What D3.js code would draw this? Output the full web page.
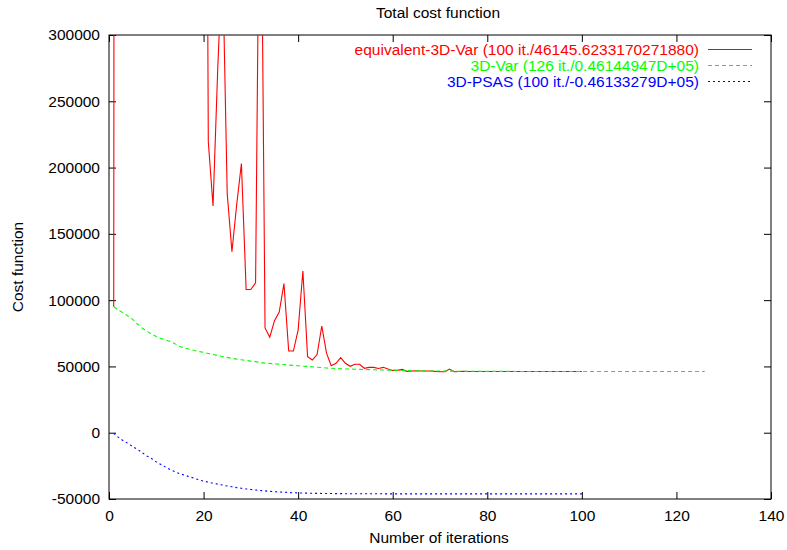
<!DOCTYPE html>
<html>
<head>
<meta charset="utf-8">
<script src="https://cdn.jsdelivr.net/npm/d3@7"></script>
<style>
  body { margin: 0; background: #fff; }
  text { font-family: "Liberation Sans", Arial, Helvetica, sans-serif; }
</style>
</head>
<body>
<svg id="chart"></svg>
<script>
// values, one entry per iteration (starting at 1)
const equivVar = [
    95000, 5000000, 4200000, 3600000, 3100000, 2700000, 2400000, 2100000, 1900000, 1700000,
    1600000, 1500000, 1400000, 1300000, 1250000, 1200000, 1150000, 1100000, 1050000, 1000000,
    219500, 171000, 275000, 360000, 180500, 136500, 172000, 203000, 108000, 108000,
    113000, 500000, 79000, 72000, 84500, 91000, 112500, 61600, 61600, 77500,
    122000, 57300, 54800, 59000, 80500, 60000, 50500, 52400, 56600, 52400,
    50100, 51600, 51600, 48600, 49300, 49300, 48400, 49300, 48000, 47000,
    47000, 47800, 46300, 46600, 46700, 46500, 46600, 46600, 46300, 46100,
    46000, 48000, 46000, 46200, 46250, 46200, 46180, 46200, 46170, 46160,
    46160, 46155, 46160, 46150, 46155, 46150, 46150, 46148, 46150, 46148,
    46147, 46147, 46146, 46146, 46146, 46146, 46145.8, 46145.7, 46145.6, 46145.6
];

const var3d = [
    95000, 92500, 90500, 88000, 85500, 82000, 79000, 76500, 74500, 72500,
    71000, 70000, 68800, 67000, 65000, 64000, 63000, 62000, 61200, 60600,
    59800, 59000, 58200, 57500, 56800, 56100, 55500, 55000, 54500, 54000,
    53600, 53000, 52500, 52200, 52000, 51700, 51400, 51000, 50800, 50500,
    50200, 50000, 49700, 49400, 49100, 48800, 48600, 48400, 48200, 48100,
    48000, 47900, 47800, 47700, 47600, 47500, 47400, 47300, 47200, 47100,
    47000, 46900, 46850, 46800, 46750, 46700, 46650, 46600, 46560, 46520,
    46490, 46460, 46430, 46400, 46380, 46360, 46340, 46320, 46300, 46290,
    46280, 46270, 46260, 46250, 46240, 46230, 46220, 46215, 46210, 46205,
    46200, 46195, 46190, 46186, 46182, 46178, 46175, 46172, 46169, 46166,
    46164, 46162, 46160, 46158, 46157, 46156, 46155, 46154, 46153, 46152,
    46151, 46150, 46149, 46148.5, 46148, 46147.5, 46147, 46146.8, 46146.5, 46146.3,
    46146, 46145.8, 46145.6, 46145.4, 46145.2, 46144.9
];

const psas3d = [
    -500, -3500, -6000, -8000, -10500, -12500, -15000, -17500, -19500, -22000,
    -24000, -26000, -28000, -29500, -31000, -32000, -33200, -34300, -35500, -36500,
    -37300, -38100, -38800, -39500, -40200, -40800, -41400, -41900, -42400, -42800,
    -43200, -43600, -43900, -44200, -44500, -44700, -44900, -45100, -45300, -45400,
    -45500, -45600, -45700, -45750, -45800, -45850, -45900, -45930, -45960, -45990,
    -46010, -46030, -46045, -46060, -46070, -46080, -46088, -46095, -46100, -46105,
    -46108, -46111, -46114, -46116, -46118, -46120, -46121, -46122, -46123, -46124,
    -46125, -46126, -46127, -46127, -46128, -46128, -46129, -46129, -46130, -46130,
    -46130, -46131, -46131, -46131, -46131, -46132, -46132, -46132, -46132, -46132,
    -46132, -46133, -46133, -46133, -46133, -46133, -46133, -46133, -46133, -46133
];

const xTicks = [0, 20, 40, 60, 80, 100, 120, 140];
const yTicks = [-50000, 0, 50000, 100000, 150000, 200000, 250000, 300000];

const seriesNames = [
    "equivalent-3D-Var (100 it./46145.6233170271880)",
    "3D-Var (126 it./0.46144947D+05)",
    "3D-PSAS (100 it./-0.46133279D+05)"
];
const seriesColors = ["#ff0000", "#00ff00", "#0000ff"];
const seriesDash = [null, "4,3", "2,3"];

const W = 787, H = 550;
const margin = { top: 35, right: 16, bottom: 51, left: 109 };
const width = W - margin.left - margin.right;
const height = H - margin.top - margin.bottom;
const fontSize = 15.5;

const svg = d3.select("#chart").attr("width", W).attr("height", H);

const x = d3.scaleLinear().domain([0, 140]).range([0, width]);
const y = d3.scaleLinear().domain([-50000, 300000]).range([height, 0]);

const g = svg.append("g").attr("transform", `translate(${margin.left},${margin.top})`);

svg.append("defs").append("clipPath").attr("id", "plot-clip")
    .append("rect").attr("width", width).attr("height", height);

const fmt = d => String(d);

// bottom + mirrored top
g.append("g").attr("transform", `translate(0,${height})`)
    .call(d3.axisBottom(x).tickValues(xTicks).tickFormat(fmt).tickSize(-7).tickPadding(11));
g.append("g")
    .call(d3.axisTop(x).tickValues(xTicks).tickFormat("").tickSize(-7));
// left + mirrored right
g.append("g")
    .call(d3.axisLeft(y).tickValues(yTicks).tickFormat(fmt).tickSize(-7).tickPadding(9));
g.append("g").attr("transform", `translate(${width},0)`)
    .call(d3.axisRight(y).tickValues(yTicks).tickFormat("").tickSize(-7));

g.selectAll(".domain").remove();
g.selectAll(".tick line").attr("stroke", "#000");
g.selectAll(".tick text").attr("font-size", fontSize).attr("fill", "#000")
    .attr("font-family", "'Liberation Sans', Arial, sans-serif");

g.append("rect")
    .attr("width", width).attr("height", height)
    .attr("fill", "none").attr("stroke", "#000").attr("stroke-width", 1);

const line = d3.line()
    .x((d, i) => x(i + 1))
    .y(d => y(d));

const plot = g.append("g").attr("clip-path", "url(#plot-clip)");
[equivVar, var3d, psas3d].forEach((vals, k) => {
    plot.append("path")
        .datum(vals)
        .attr("fill", "none")
        .attr("stroke", seriesColors[k])
        .attr("stroke-width", 1.1)
        .attr("stroke-dasharray", seriesDash[k])
        .attr("d", line);
});

// legend
const legend = svg.append("g");
seriesNames.forEach((name, k) => {
    const ly = 49.5 + k * 16;
    legend.append("text")
        .attr("x", 699).attr("y", ly)
        .attr("dy", "0.35em")
        .attr("text-anchor", "end")
        .attr("font-size", fontSize)
        .attr("fill", seriesColors[k])
        .text(name);
    legend.append("line")
        .attr("x1", 708).attr("x2", 752)
        .attr("y1", ly).attr("y2", ly)
        .attr("stroke", seriesColors[k])
        .attr("stroke-dasharray", seriesDash[k]);
});

svg.append("text")
    .attr("x", 438).attr("y", 13).attr("dy", "0.35em")
    .attr("text-anchor", "middle").attr("font-size", fontSize)
    .text("Total cost function");

svg.append("text")
    .attr("x", 439).attr("y", 538).attr("dy", "0.35em")
    .attr("text-anchor", "middle").attr("font-size", fontSize)
    .text("Number of iterations");

svg.append("text")
    .attr("transform", "translate(18,267) rotate(-90)")
    .attr("dy", "0.35em")
    .attr("text-anchor", "middle").attr("font-size", fontSize)
    .text("Cost function");
</script>
</body>
</html>
